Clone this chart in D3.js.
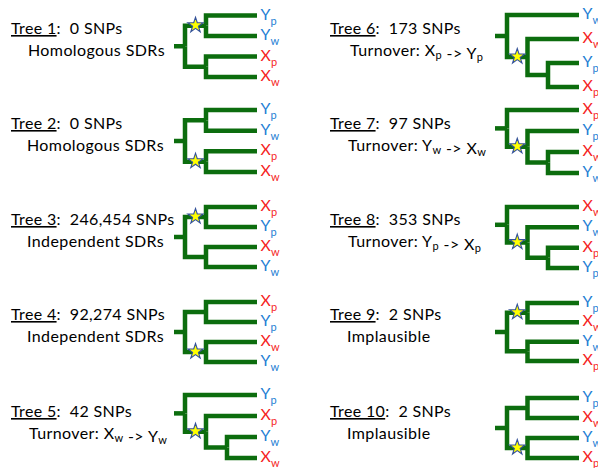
<!DOCTYPE html>
<html>
<head>
<meta charset="utf-8">
<script src="https://cdn.jsdelivr.net/npm/d3@7"></script>
<style>
  html, body { margin: 0; padding: 0; background: #ffffff; }
  svg { display: block; }
</style>
</head>
<body>
<div id="chart"></div>
<script>
// ---------------- data ----------------
const treeNames = ["Tree 1", "Tree 2", "Tree 3", "Tree 4", "Tree 5",
                   "Tree 6", "Tree 7", "Tree 8", "Tree 9", "Tree 10"];
const snpCounts = ["0", "0", "246,454", "92,274", "42",
                   "173", "97", "353", "2", "2"];
// "_" marks a subscript letter
const descriptions = ["Homologous SDRs", "Homologous SDRs", "Independent SDRs", "Independent SDRs",
                      "Turnover: X_w -> Y_w",
                      "Turnover: X_p -> Y_p", "Turnover: Y_w -> X_w", "Turnover: Y_p -> X_p",
                      "Implausible", "Implausible"];
// topologies; "*" marks the branch carrying the star
const topologies = ["((Yp,Yw)*,(Xp,Xw))", "((Yp,Yw),(Xp,Xw)*)",
                    "((Xp,Yp)*,(Xw,Yw))", "((Xp,Yp),(Xw,Yw)*)",
                    "(Yp,(Xp,(Yw,Xw))*)",
                    "(Yw,(Xw,(Yp,Xp))*)", "(Xp,(Yp,(Xw,Yw))*)",
                    "(Xw,(Yw,(Xp,Yp))*)", "((Yp,Xw)*,(Yw,Xp))", "((Yp,Xw),(Yw,Xp)*)"];

// ---------------- layout (positions only) ----------------
const W = 598, H = 468;
const leafTop    = [15.5, 110, 207, 302, 395, 15, 110, 207, 303, 398];
const leafBottom = [77, 172, 267, 362, 458, 87, 173, 268, 361, 458];
const baseline1  = [34, 129, 225, 320, 417, 34, 129, 225, 320, 417];
const textX1     = [11, 11, 11, 11, 11, 330, 330, 330, 330, 330];
const textX2     = [28, 27, 27, 27, 29, 350, 348, 348, 347, 347];
const col = i => (i < 5 ? 0 : 1);
const rootX  = [185, 507];
const stubX  = [174, 495];
const stepX  = [21, 20.5];
const leafX  = [257, 579];

const GREEN = "#0c6d0e";
const BLUE = "#1f80d4";
const RED = "#f51f1f";
const FONT = "Lato, 'Open Sans', sans-serif";

const svg = d3.select("#chart").append("svg")
  .attr("width", W).attr("height", H)
  .attr("viewBox", `0 0 ${W} ${H}`);

function parse(s) {
  let i = 0;
  function node() {
    let n;
    if (s[i] === "(") {
      i++;
      const ch = [node()];
      while (s[i] === ",") { i++; ch.push(node()); }
      i++; // ')'
      n = { children: ch };
    } else {
      let name = "";
      while (i < s.length && /[A-Za-z]/.test(s[i])) name += s[i++];
      n = { name };
    }
    if (s[i] === "*") { n.star = true; i++; }
    return n;
  }
  return node();
}

const starPath = d3.symbol().type(d3.symbolStar).size(72)();

topologies.forEach((topo, t) => {
  const c = col(t);
  const root = d3.hierarchy(parse(topo));
  const leaves = root.leaves();
  const yScale = d3.scalePoint()
    .domain(leaves.map(d => d.data.name))
    .range([leafTop[t], leafBottom[t]]);
  const xScale = d3.scaleLinear().domain([0, 1]).range([rootX[c], rootX[c] + stepX[c]]);

  root.eachAfter(n => {
    if (!n.children) {
      n.y = yScale(n.data.name);
      n.x = leafX[c];
    } else {
      n.y = d3.mean(n.children, ch => ch.y);
      n.x = xScale(n.depth);
    }
  });

  const g = svg.append("g").attr("class", "tree");

  // stub
  g.append("path")
    .attr("d", `M${stubX[c]},${root.y}H${root.x}`)
    .attr("fill", "none").attr("stroke", GREEN).attr("stroke-width", 4.5);

  // elbow links
  g.selectAll("path.link").data(root.links()).join("path")
    .attr("class", "link")
    .attr("d", l => `M${l.source.x},${l.source.y}V${l.target.y}H${l.target.x}`)
    .attr("fill", "none")
    .attr("stroke", GREEN)
    .attr("stroke-width", 4.5)
    .attr("stroke-linejoin", "miter");

  // star
  root.descendants().filter(n => n.data.star).forEach(n => {
    g.append("path")
      .attr("d", starPath)
      .attr("transform", `translate(${(n.parent.x + n.x) / 2},${n.y - 0.5})`)
      .attr("fill", "#ffff00")
      .attr("stroke", "#34529a")
      .attr("stroke-width", 1.1);
  });

  // leaf labels
  leaves.forEach(n => {
    const name = n.data.name;
    const txt = g.append("text")
      .attr("x", leafX[c] + 3.5)
      .attr("y", n.y + 4)
      .attr("font-family", FONT)
      .attr("font-size", 16)
      .attr("fill", name[0] === "Y" ? BLUE : RED);
    txt.append("tspan").text(name[0]);
    txt.append("tspan").attr("font-size", 11).attr("dy", 5).text(name.slice(1));
  });

  // text block
  const t1 = svg.append("text")
    .attr("x", textX1[t]).attr("y", baseline1[t])
    .attr("font-family", FONT).attr("font-size", 16)
    .attr("letter-spacing", 0.35).attr("fill", "#000");
  t1.append("tspan").attr("text-decoration", "underline").text(treeNames[t]);
  t1.append("tspan").text(":\u00a0\u00a0" + snpCounts[t] + " SNPs");

  const t2 = svg.append("text")
    .attr("x", textX2[t]).attr("y", baseline1[t] + 22)
    .attr("font-family", FONT).attr("font-size", 16)
    .attr("letter-spacing", 0.4).attr("fill", "#000");
  const parts = descriptions[t].split(/(_[a-z])/);
  parts.forEach(p => {
    if (p.startsWith("_")) {
      t2.append("tspan").attr("font-size", 11).attr("dy", 2.5).text(p.slice(1));
      t2.append("tspan").attr("dy", -2.5).text("");
    } else if (p.length) {
      t2.append("tspan").text(p.replace(/ /g, "\u00a0"));
    }
  });
});
</script>
</body>
</html>
